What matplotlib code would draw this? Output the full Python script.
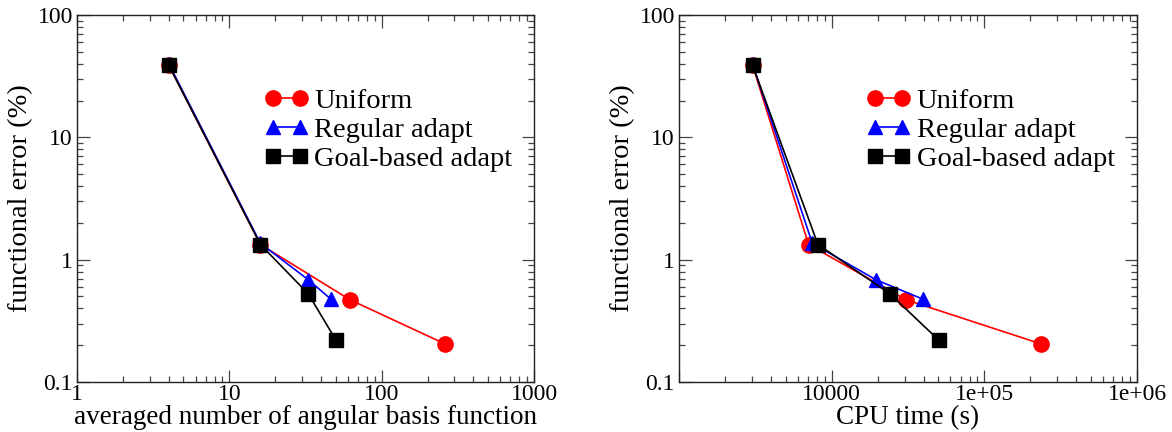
import numpy as np
import matplotlib.pyplot as plt
from matplotlib.ticker import LogLocator, FuncFormatter, NullFormatter

plt.rcParams['font.family'] = ['Liberation Serif', 'DejaVu Serif']

# 数据
nb_uniform = [4, 16, 62, 260]
nb_regular = [4, 16, 33, 46.5]
nb_goal = [4, 16, 33, 50]

cpu_uniform = [3030, 7060, 30700, 235000]
cpu_regular = [3030, 7470, 19500, 39700]
cpu_goal = [3030, 8130, 24100, 50100]

err_uniform = [39, 1.33, 0.47, 0.205]
err_regular = [40, 1.36, 0.685, 0.475]
err_goal = [39, 1.33, 0.525, 0.221]

labels = ['Uniform', 'Regular adapt', 'Goal-based adapt']

fig = plt.figure(figsize=(11.72, 4.32), dpi=100)
ax1 = fig.add_axes([77/1172, 1-382/432, 457/1172, 367/432])
ax2 = fig.add_axes([679/1172, 1-382/432, 458/1172, 367/432])


def style(ax, xlim, xfmt, xlabel):
    ax.set_xscale('log')
    ax.set_yscale('log')
    ax.set_xlim(*xlim)
    ax.set_ylim(0.1, 100)
    ax.xaxis.set_major_locator(LogLocator(base=10, numticks=10))
    ax.xaxis.set_minor_locator(LogLocator(base=10, subs=np.arange(2, 10), numticks=20))
    ax.yaxis.set_major_locator(LogLocator(base=10, numticks=10))
    ax.yaxis.set_minor_locator(LogLocator(base=10, subs=np.arange(2, 10), numticks=20))
    ax.xaxis.set_major_formatter(FuncFormatter(xfmt))
    ax.xaxis.set_minor_formatter(NullFormatter())
    ax.yaxis.set_major_formatter(FuncFormatter(lambda v, p: '%g' % v))
    ax.yaxis.set_minor_formatter(NullFormatter())
    ax.tick_params(which='both', direction='in', top=True, right=True, labelsize=17,
                   width=0.9, color='#444444')
    ax.tick_params(which='major', length=9)
    ax.tick_params(axis='y', which='major', pad=3)
    ax.tick_params(axis='x', which='major', pad=1.5)
    ax.tick_params(which='minor', length=4.5)
    for s in ax.spines.values():
        s.set_linewidth(1.0)
        s.set_color('#222222')
    ax.set_xlabel(xlabel, fontsize=19.5, va='bottom')
    ax.xaxis.set_label_coords(0.5, -0.132)
    ax.set_ylabel('functional error (%)', fontsize=20.5, labelpad=3)


def cpu_fmt(v, p):
    if v < 5000:
        return ''
    if v < 50000:
        return '%d' % v
    return '%.0e' % v


style(ax1, (1, 1000), lambda v, p: '%g' % v, 'averaged number of angular basis function')
style(ax2, (1000, 1e6), cpu_fmt, 'CPU time (s)')

for ax, xs in [(ax1, (nb_uniform, nb_regular, nb_goal)), (ax2, (cpu_uniform, cpu_regular, cpu_goal))]:
    ax.plot(xs[0], err_uniform, '-o', color='red', lw=1.2, ms=11, label=labels[0])
    ax.plot(xs[1], err_regular, '-^', color='blue', lw=1.2, ms=10, label=labels[1])
    ax.plot(xs[2], err_goal, '-s', color='black', lw=1.2, ms=10, label=labels[2])
    ax.legend(loc='upper left', bbox_to_anchor=(0.41, 0.80), frameon=False, fontsize=20.5,
              handlelength=1.55, handletextpad=0.2, labelspacing=0.1, borderpad=0,
              borderaxespad=0, numpoints=2)

fig.savefig('out.png', dpi=100)
